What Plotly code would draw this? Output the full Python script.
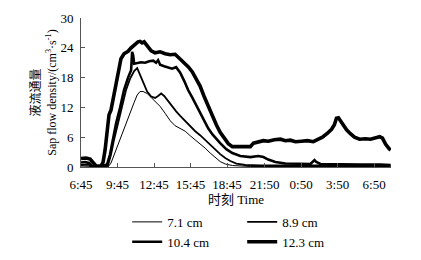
import datetime as dt
import plotly.graph_objects as go

# ---- data (clock time, sap flow density) ----
t_71 = ["6:45","7:39","8:58","9:13","9:33","9:58","10:22","10:47","11:07","11:22","11:36","11:51",
        "12:11","12:31","12:50","13:15","13:40","14:05","14:29","14:54","15:19","15:43","16:08",
        "16:32","16:57","17:22","17:47","18:11","18:36","19:11","20:40","23:57","4:04","8:11"]
v_71 = [0.2,0.1,0.0,0.8,3.0,5.5,8.0,10.8,13.0,14.5,15.2,15.2,
        14.8,14.0,13.2,12.2,10.8,9.3,8.3,7.7,7.2,6.3,5.5,
        4.7,3.8,2.8,1.9,1.1,0.6,0.3,0.1,0.1,0.1,0.1]

t_89 = ["6:45","7:20","7:39","8:44","8:58","9:13","9:28","9:48","10:08","10:27","10:47","11:07",
        "11:22","11:36","11:51","12:11","12:31","12:50","13:05","13:20","13:35","13:55","14:14",
        "14:34","14:54","15:19","15:43","16:08","16:32","16:57","17:22","17:47","18:11","18:36",
        "19:01","19:31","20:15","21:29","23:08","1:36","4:04","6:32","8:11"]
v_89 = [0.4,0.5,0.1,0.0,0.3,2.5,5.5,9.0,12.5,15.5,17.8,19.3,
        19.9,18.5,17.0,15.2,14.2,13.9,14.3,14.8,14.3,13.2,12.2,
        11.2,10.3,9.2,8.2,7.2,6.4,5.4,4.5,3.5,2.6,1.8,
        1.2,0.7,0.4,0.3,0.3,0.3,0.3,0.3,0.3]

t_104 = ["6:45","7:05","7:25","7:39","8:19","8:39","8:53","9:08","9:23","9:38","9:58","10:17",
         "10:37","10:52","10:57","11:02","11:07","11:22","11:41","12:01","12:21","12:41","12:55",
         "13:05","13:15","13:35","13:55","14:14","14:34","14:54","15:14","15:33","15:53","16:13",
         "16:32","16:52","17:12","17:32","17:52","18:11","18:41","19:11","19:50","20:40","21:19",
         "21:44","22:08","22:43","23:32","0:47","1:36","1:56","2:05","2:25","4:04","5:43","7:22","8:11"]
v_104 = [0.9,1.0,0.8,0.2,0.1,0.3,0.5,2.5,5.5,8.8,12.0,15.5,
         18.0,19.5,23.2,22.5,20.8,20.9,21.1,21.0,21.3,21.4,21.0,
         21.5,20.6,20.3,20.0,19.8,20.1,19.0,17.3,15.5,14.0,12.4,
         10.8,9.2,7.8,6.6,5.6,4.8,3.6,2.8,2.2,2.0,2.2,
         2.0,1.5,1.0,0.7,0.6,0.6,1.4,1.0,0.6,0.5,0.5,0.5,0.4]

t_123 = ["6:45","7:10","7:30","7:44","7:59","8:24","8:34","8:44","8:53","9:03","9:13","9:23",
         "9:38","9:53","10:02","10:17","10:37","10:52","11:11","11:26","11:36","11:46","11:56",
         "12:11","12:31","12:50","13:15","13:40","14:05","14:29","14:54","15:14","15:33","15:53",
         "16:13","16:32","16:52","17:12","17:32","17:52","18:11","18:31","18:51","19:11","19:50",
         "20:40","20:55","21:19","21:44","22:08","22:38","23:08","23:32","23:57","0:22","0:52",
         "1:21","1:50","2:15","2:35","3:00","3:20","3:34","3:44","3:54","4:04","4:19","4:34",
         "4:53","5:13","5:38","6:07","6:32","6:57","7:17","7:31","7:46","8:01","8:11"]
v_123 = [1.7,1.8,1.6,0.8,0.2,0.2,1.0,3.5,7.5,10.5,11.5,13.5,
         17.0,20.0,21.8,22.8,23.3,24.0,24.8,25.2,25.3,25.0,25.2,
         24.3,23.4,23.0,23.2,22.8,22.6,22.7,21.8,21.0,20.2,19.2,
         17.8,16.3,14.2,12.3,10.2,8.5,7.0,5.8,4.7,4.1,4.1,
         4.1,4.8,5.0,5.3,5.2,5.5,5.6,5.3,5.4,5.1,5.2,
         5.3,5.1,5.5,6.0,6.8,7.6,8.5,9.8,9.9,9.3,8.4,7.5,
         6.7,6.0,5.6,5.7,5.6,5.8,6.1,5.8,4.6,3.8,3.4]

series_names = ["7.1 cm", "8.9 cm", "10.4 cm", "12.3 cm"]
series_times = [t_71, t_89, t_104, t_123]
series_vals = [v_71, v_89, v_104, v_123]
series_widths = [1.0, 1.8, 2.6, 3.6]

tick_labels = ["6:45", "9:45", "12:45", "15:45", "18:45", "21:50", "0:50", "3:50", "6:50"]
y_ticks = [0, 6, 12, 18, 24, 30]

BASE = dt.datetime(2000, 1, 1)


def to_dt(clock_list):
    out, day, prev = [], 0, None
    for c in clock_list:
        h, m = map(int, c.split(":"))
        mins = h * 60 + m
        if prev is not None and mins < prev:
            day += 1
        prev = mins
        out.append(BASE + dt.timedelta(days=day, minutes=mins))
    return out


fig = go.Figure()
for name, ts, vs, w in zip(series_names, series_times, series_vals, series_widths):
    fig.add_trace(go.Scatter(x=to_dt(ts), y=vs, mode="lines", name=name,
                             line=dict(color="black", width=w)))

tick_vals = to_dt(tick_labels)
FONT = "Liberation Serif, 'Times New Roman', 'Noto Sans CJK SC', serif"

# page body has an 8px default margin, so the figure is sized 8px smaller
fig.update_layout(
    width=413, height=252,
    margin=dict(l=73, r=30, t=10, b=93, autoexpand=False),
    paper_bgcolor="white", plot_bgcolor="white",
    font=dict(family=FONT, size=13, color="black"),
    showlegend=True,
    legend=dict(orientation="h", x=0.149, xanchor="left",
                y=-0.268, yanchor="top",
                entrywidth=70, font=dict(size=13), bgcolor="rgba(0,0,0,0)",
                traceorder="normal"),
    xaxis=dict(range=[BASE + dt.timedelta(minutes=6 * 60 + 45),
                      BASE + dt.timedelta(days=1, minutes=8 * 60 + 13)],
               tickvals=tick_vals, ticktext=tick_labels,
               showline=True, linecolor="#555", linewidth=1,
               ticks="inside", ticklen=4, tickcolor="#555",
               ticklabelstandoff=5,
               showgrid=False, zeroline=False,
               title=dict(text="时刻 Time", standoff=3, font=dict(size=13))),
    yaxis=dict(range=[0, 30], tickvals=y_ticks,
               showline=True, linecolor="#555", linewidth=1,
               ticks="inside", ticklen=4, tickcolor="#555",
               ticklabelstandoff=4, automargin=False,
               showgrid=False, zeroline=False,
               title=dict(text="液流通量<br>Sap flow density/(cm<sup>3</sup>·s<sup>-1</sup>)",
                          standoff=1, font=dict(size=12))),
)

fig.write_html("out.html")
